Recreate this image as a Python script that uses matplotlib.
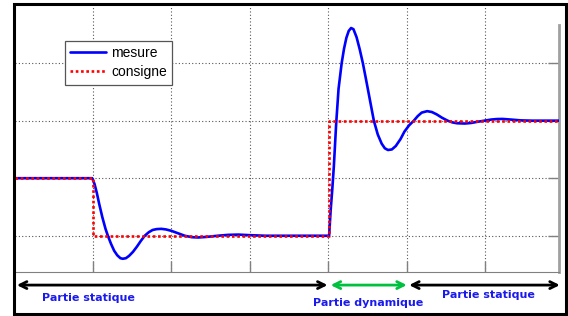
import matplotlib

matplotlib.use("Agg")
import matplotlib.pyplot as plt
import matplotlib.patches as mpatches
import matplotlib.transforms as mtransforms

# consigne (setpoint): step times and levels
setpoint_t = [0.0, 1.0, 1.0, 4.01, 4.01, 6.94]
setpoint_v = [0.0, 0.0, -1.0, -1.0, 1.0, 1.0]

measure_t = [
    0.0, 0.99, 1.02, 1.05, 1.08, 1.12, 1.16, 1.19, 1.23, 1.27, 1.31, 1.35, 1.38,
    1.42, 1.46, 1.51, 1.56, 1.61, 1.66, 1.71, 1.76, 1.81, 1.87, 1.93, 2.0, 2.08,
    2.17, 2.26, 2.34, 2.45, 2.59, 2.72, 2.85, 3.0, 3.2, 4.01,
    4.03, 4.05, 4.07, 4.10, 4.13, 4.17, 4.20, 4.23, 4.26, 4.29, 4.32, 4.36, 4.40,
    4.44, 4.48, 4.53, 4.58, 4.63, 4.68, 4.72, 4.76, 4.81, 4.86, 4.92, 4.97, 5.03,
    5.09, 5.14, 5.19, 5.26, 5.32, 5.38, 5.45, 5.52, 5.58, 5.64, 5.74, 5.82, 5.90,
    5.99, 6.08, 6.15, 6.22, 6.32, 6.45, 6.6, 6.94,
]
measure_v = [
    0.0, 0.0, -0.10, -0.26, -0.45, -0.68, -0.88, -1.0, -1.14, -1.26, -1.34, -1.39, -1.40,
    -1.39, -1.35, -1.28, -1.19, -1.09, -1.0, -0.94, -0.90, -0.885, -0.88, -0.89, -0.915, -0.955,
    -1.0, -1.025, -1.03, -1.02, -1.0, -0.985, -0.98, -0.99, -1.0, -1.0,
    -0.55, -0.2, 0.2, 0.95, 1.55, 2.0, 2.25, 2.44, 2.56, 2.61, 2.59, 2.45, 2.24,
    2.0, 1.72, 1.36, 1.0, 0.76, 0.60, 0.52, 0.49, 0.50, 0.56, 0.68, 0.81, 0.92,
    1.0, 1.08, 1.14, 1.165, 1.15, 1.11, 1.05, 1.0, 0.97, 0.955, 0.95, 0.96, 0.98,
    1.0, 1.02, 1.028, 1.03, 1.02, 1.005, 1.0, 1.0,
]

# phases shown under the chart
phase_edges = [0.03, 3.99, 4.03, 5.0, 5.03, 6.95]
phase_labels = ["Partie statique", "Partie dynamique", "Partie statique"]

W, H = 568, 316
fig = plt.figure(figsize=(W / 100, H / 100), dpi=100)
fig.patch.set_facecolor("white")

ax = fig.add_axes([14.5 / W, (H - 272) / H, 544.5 / W, 267 / H])
ax.set_xlim(0, 6.94)
ax.set_ylim(-1.63, 3.01)

ax.plot(measure_t, measure_v, color="#0000ff", lw=1.9, solid_joinstyle="round",
        solid_capstyle="round", label="mesure", zorder=3)
ax.plot(setpoint_t, setpoint_v, color="#ff0000", lw=1.9, ls=(0, (1, 1)),
        label="consigne", zorder=4)

ax.set_xticks([1, 2, 3, 4, 5, 6])
ax.set_yticks([-1, 0, 1, 2])
ax.grid(True, color="#555555", ls=(0, (1, 2)), lw=0.8)
ax.tick_params(direction="in", length=8, width=1, color="#808080",
               bottom=True, right=True, left=False, top=False,
               labelbottom=False, labelleft=False)
for side in ("top", "left"):
    ax.spines[side].set_visible(False)
ax.spines["bottom"].set_color("#808080")
ax.spines["right"].set_color("#a0a0a0")
ax.spines["right"].set_linewidth(2)
ax.spines["right"].set_bounds(-1.63, 2.67)

leg = ax.legend(loc="upper left", bbox_to_anchor=(0.092, 0.866), frameon=True,
                fancybox=False, framealpha=1, edgecolor="#555555",
                prop={"family": "Liberation Sans", "size": 10},
                handlelength=2.6, handletextpad=0.35, borderpad=0.4,
                labelspacing=0.35, borderaxespad=0)
leg.get_frame().set_linewidth(0.9)

trans = mtransforms.blended_transform_factory(ax.transData, ax.transAxes)
arrow_colors = ["black", "#00c040", "black"]
label_x = [0.94, 4.51, 6.04]
label_y = [-0.097, -0.117, -0.086]
for i in range(3):
    x0, x1 = phase_edges[2 * i], phase_edges[2 * i + 1]
    ax.annotate("", xy=(x1, -0.049), xytext=(x0, -0.049), xycoords=trans,
                textcoords=trans, annotation_clip=False,
                arrowprops=dict(arrowstyle="<->,head_length=0.5,head_width=0.25",
                                color=arrow_colors[i], lw=2, shrinkA=0, shrinkB=0))
    ax.text(label_x[i], label_y[i], phase_labels[i], transform=trans,
            ha="center", va="center", color="#1a1aee", fontsize=8,
            fontweight="bold", family="DejaVu Sans", clip_on=False)

# outer black frame
fig.patches.append(mpatches.Rectangle((13.5 / W, 2.5 / H), 552 / W, 309.5 / H,
                                      transform=fig.transFigure, fill=False,
                                      edgecolor="black", lw=2.2, zorder=10))

fig.savefig("out.png", dpi=100)
